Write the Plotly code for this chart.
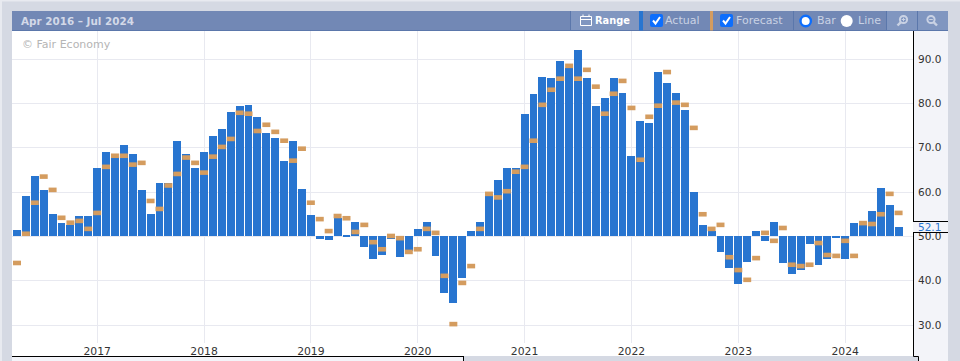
import plotly.graph_objects as go

W, H = 960, 361
PL, PR, PT, PB = 12, 913, 31, 343

months = [f"{2016 + (3 + i) // 12}-{(3 + i) % 12 + 1:02d}" for i in range(100)]

actual = [
    51.5, 59.2, 63.7, 60.5, 55.1, 53.1, 52.6, 54.7, 54.7,
    65.5, 69.1, 68.0, 70.7, 68.6, 60.5, 55.1, 62.1, 62.1, 71.6, 68.6, 65.5,
    69.1, 72.7, 74.3, 78.1, 79.5, 79.7, 77.0, 73.4, 72.3, 67.1, 71.6, 60.8,
    54.8, 49.4, 49.2, 54.1, 50.2, 53.2, 47.6, 44.9, 45.8, 49.4, 45.3, 46.7,
    51.7, 53.2, 45.6, 37.2, 35.0, 40.6, 51.2, 53.2, 59.5, 62.8, 65.5, 65.5,
    77.7, 82.2, 86.0, 85.8, 89.6, 88.0, 92.1, 85.8, 79.5, 81.3, 85.8, 82.4,
    68.2, 76.1, 75.6, 87.1, 84.7, 82.4, 78.6, 60.1, 52.6, 51.3, 46.5, 42.9,
    39.2, 44.2, 51.2, 49.0, 53.2, 44.0, 41.5, 42.4, 48.3, 43.5, 44.9, 49.6,
    44.9, 53.0, 52.6, 55.7, 60.9, 57.1, 52.1,
]
forecast = [
    44.0, 50.6, 57.6, 63.5, 60.5, 54.2, 53.1, 53.5, 51.7,
    55.3, 65.7, 68.2, 68.2, 66.2, 66.6, 58.0, 56.2, 61.5, 64.1, 67.8, 66.6,
    64.4, 68.0, 70.2, 72.0, 77.9, 77.7, 73.8, 75.2, 73.6, 71.6, 67.1, 69.8,
    57.6, 53.9, 51.2, 54.6, 54.1, 51.0, 52.6, 48.7, 47.1, 50.1, 49.6, 46.5,
    47.1, 51.7, 50.8, 41.1, 30.2, 39.5, 43.3, 51.7, 59.6, 58.8, 60.2, 64.6,
    65.7, 71.6, 79.7, 83.1, 85.6, 88.5, 85.6, 87.6, 83.8, 77.7, 82.2, 85.1,
    79.0, 67.3, 77.0, 79.5, 87.1, 80.2, 79.7, 74.5, 55.0, 51.7, 52.6, 45.3,
    42.4, 40.2, 45.1, 50.8, 49.0, 51.9, 43.6, 43.3, 43.6, 48.5, 45.8, 45.6,
    49.0, 45.6, 53.0, 52.8, 55.0, 59.6, 55.3,
]
x_tick_months = ["2017-01", "2018-01", "2019-01", "2020-01", "2021-01", "2022-01", "2023-01", "2024-01"]
x_tick_text = ["2017", "2018", "2019", "2020", "2021", "2022", "2023", "2024"]
y_ticks = [30, 40, 50, 60, 70, 80, 90]
baseline = 50
latest_label = "52.1"
date_range_label = "Apr 2016 – Jul 2024"


def fx(px):
    return (px - PL) / (PR - PL)


def fy(py):
    return (PB - py) / (PB - PT)


PAGE = "#d5d9e3"
PANEL = "#f3f4f9"
HEAD = "#7288b5"
HEAD_LIGHT = "#8096c0"
SEP = "#5b77ab"
BLUE = "#2875d0"
ORANGE = "#d49c5f"
CHK = "#0d6efd"
LABEL = "#c9d2e4"
DARK = "#333333"
FONT = "DejaVu Sans"

shapes = []


def rect(x0, y0, x1, y1, fill, layer="below", line=None, lw=0):
    shapes.append(dict(type="rect", xref="paper", yref="paper", x0=fx(x0), x1=fx(x1), y0=fy(y0), y1=fy(y1),
                       fillcolor=fill, line=dict(width=lw, color=line or fill), layer=layer))


def seg(x0, y0, x1, y1, color, width=1, layer="below"):
    shapes.append(dict(type="line", xref="paper", yref="paper", x0=fx(x0), x1=fx(x1), y0=fy(y0), y1=fy(y1),
                       line=dict(color=color, width=width), layer=layer))


def circ(cx, cy, r, fill, line, lw, layer="above"):
    shapes.append(dict(type="circle", xref="paper", yref="paper", x0=fx(cx - r), x1=fx(cx + r), y0=fy(cy + r),
                       y1=fy(cy - r), fillcolor=fill, line=dict(color=line, width=lw), layer=layer))


# page edge and white lower band of the chart
rect(0, 0, 2, H, "#e8eaf0")
rect(0, 0, W, 1.5, "#e8eaf0")
rect(12, 31, 913, 356, "white")
# bottom strip
rect(12, 356, 463, 361, PANEL)
seg(12, 356.5, 463, 356.5, "black")
seg(463.5, 356, 463.5, 361, "black")
# right panel
rect(913, 31, 948, 356, PANEL)
rect(918, 356, 948, 361, PANEL)
seg(913.5, 31, 913.5, 221, "black")
seg(913.5, 232, 913.5, 356.5, "black")
seg(913.5, 356.5, 918.5, 356.5, "black")
seg(918.5, 356.5, 918.5, 361, "black")
# value tag
rect(914, 221, 948, 232, PANEL, layer="above")
seg(913, 221.5, 948, 221.5, "black", layer="above")
seg(913, 232.5, 948, 232.5, "black", layer="above")

# header
rect(12, 11, 948, 30.5, HEAD)
seg(12, 30.5, 948, 30.5, SEP, 1)
rect(571, 11, 639, 30, HEAD_LIGHT)
rect(886, 11, 948, 30, HEAD_LIGHT)
for sx in (570.5, 793.5, 886.5, 917.5):
    seg(sx, 11, sx, 30, SEP)
rect(639, 11, 643, 30.5, BLUE)
rect(710, 11, 713, 30.5, ORANGE)

# calendar icon
rect(580.5, 16.5, 591.5, 25.5, "rgba(0,0,0,0)", line="white", lw=1)
seg(580.5, 19.5, 591.5, 19.5, "white")
seg(583, 14.5, 583, 17, "white")
seg(589, 14.5, 589, 17, "white")

# check boxes
for bx in (650, 720):
    shapes.append(dict(type="path", xref="paper", yref="paper", layer="above",
                       path=f"M{fx(bx + 2)},{fy(14)} L{fx(bx + 11)},{fy(14)} Q{fx(bx + 13)},{fy(14)} {fx(bx + 13)},{fy(16)} "
                            f"L{fx(bx + 13)},{fy(25)} Q{fx(bx + 13)},{fy(27)} {fx(bx + 11)},{fy(27)} L{fx(bx + 2)},{fy(27)} "
                            f"Q{fx(bx)},{fy(27)} {fx(bx)},{fy(25)} L{fx(bx)},{fy(16)} Q{fx(bx)},{fy(14)} {fx(bx + 2)},{fy(14)} Z",
                       fillcolor=CHK, line=dict(width=0)))
    shapes.append(dict(type="path", xref="paper", yref="paper", layer="above",
                       path=f"M{fx(bx + 3)},{fy(20.5)} L{fx(bx + 5.5)},{fy(23.5)} L{fx(bx + 10)},{fy(17)}",
                       line=dict(color="white", width=2)))

# radio buttons
circ(805.7, 21, 5.2, "white", CHK, 2.4)
circ(846.7, 21, 6, "white", "white", 0)

# magnifier icons
for cx, plus in ((903.5, True), (931, False)):
    circ(cx, 19.5, 3.6, "rgba(0,0,0,0)", LABEL, 2)
    seg(cx + (-2.8 if plus else 2.8), 22.3, cx + (-6 if plus else 6), 25.5, LABEL, 2.4, layer="above")
    seg(cx - 1.8, 19.5, cx + 1.8, 19.5, LABEL, 1, layer="above")
    if plus:
        seg(cx, 17.7, cx, 21.3, LABEL, 1, layer="above")


def label(px, py, text, color, size=11, anchor="left", bold=False):
    return dict(xref="paper", yref="paper", x=fx(px), y=fy(py), text=f"<b>{text}</b>" if bold else text,
                showarrow=False, xanchor=anchor, yanchor="middle", xshift=0, yshift=0,
                font=dict(family=FONT, size=size, color=color), borderpad=0, borderwidth=0)


annotations = [
    label(21, 21, date_range_label, "#d3d9e8", 10.4, bold=True),
    label(22, 44.5, "© Fair Economy", "#b5b5b5", 11),
    label(595, 21, "Range", "white", 9.8, bold=True),
    label(665, 21, "Actual", LABEL, 11),
    label(736, 21, "Forecast", LABEL, 11),
    label(816.5, 21, "Bar", LABEL, 11),
    label(857.5, 21, "Line", LABEL, 11),
    label(918, 226.5, latest_label, BLUE, 10.5),
]

month_px = 8.905
x0_px = 17.0
x_range = [(PL - x0_px) / month_px, (PR - x0_px) / month_px]
y_scale = 4.43
y_range = [50 - (PB - 236.4) / y_scale, 50 + (236.4 - PT) / y_scale]

fig = go.Figure()
fig.add_bar(name="Actual", x=months, y=[v - baseline for v in actual], base=baseline, width=0.888,
            marker=dict(color=BLUE, line=dict(width=0)))
fig.add_scatter(name="Forecast", x=months, y=forecast, mode="markers",
                marker=dict(symbol="line-ew", size=5.7, color=ORANGE, line=dict(color=ORANGE, width=4.6)))

fig.update_layout(
    width=W, height=H, autosize=False,
    margin=dict(l=PL, r=W - PR, t=PT, b=H - PB, pad=0, autoexpand=False),
    paper_bgcolor=PAGE, plot_bgcolor="white",
    showlegend=False, bargap=0, shapes=shapes, annotations=annotations,
    font=dict(family=FONT, size=10.8, color=DARK),
    xaxis=dict(type="category", categoryorder="array", categoryarray=months, range=x_range,
               tickmode="array", tickvals=x_tick_months, ticktext=x_tick_text,
               showgrid=True, gridcolor="#e8e9f0", gridwidth=1, zeroline=False, showline=False,
               ticks="", ticklabelstandoff=0, tickfont=dict(family=FONT, size=10.8, color=DARK)),
    yaxis=dict(side="right", range=y_range, tickmode="array", tickvals=y_ticks, tickformat=".1f",
               showgrid=True, gridcolor="#e8e9f0", gridwidth=1, zeroline=False, showline=False,
               ticks="", ticklabelstandoff=4, tickfont=dict(family=FONT, size=10.5, color=DARK)),
)
fig.write_html("out.html", config=dict(displayModeBar=False),
               post_script="document.body.style.margin='0';document.body.style.overflow='hidden';")
